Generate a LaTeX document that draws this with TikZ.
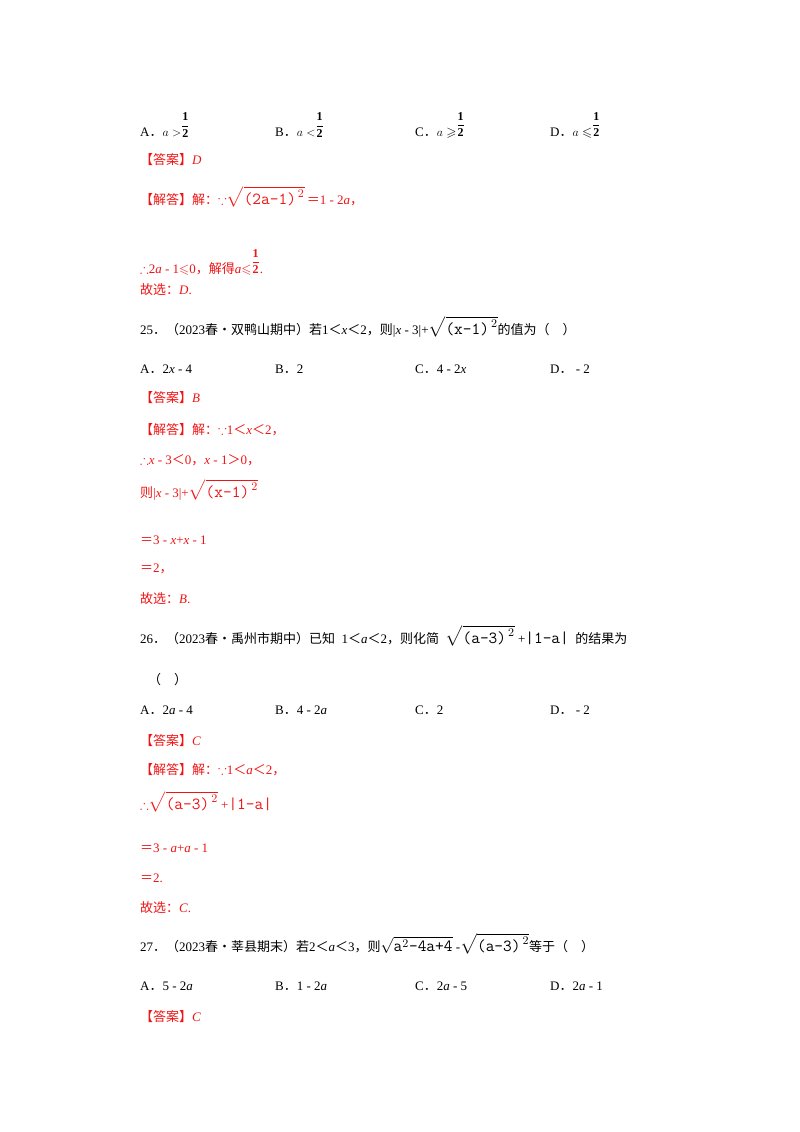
\documentclass[tikz,border=0pt]{standalone}
\usepackage{amssymb}
\usepackage{graphicx}
\usepackage{fontspec}
\setmainfont{Liberation Serif}
\newfontfamily\cjk{Noto Sans CJK SC}
\newcommand\zh[1]{{\cjk #1}}
\definecolor{ans}{RGB}{240,20,20}
\newcommand\rt[1]{\scalebox{1.3}{$\sqrt{\texttt{#1}^{\,2}}$}}
\newcommand\hf{{\large$\displaystyle\frac{\mathbf{1}}{\mathbf{2}}$}}
\begin{document}
\begin{tikzpicture}[x=1pt,y=-1pt,every node/.style={anchor=west,inner sep=0pt,font=\fontsize{13}{15}\selectfont},
 red/.style={text=ans}]
\useasboundingbox[fill=white] (0,0) rectangle (800,1132);
\node (a1) at (140,125) {A\zh{．}$a>$\raisebox{8pt}{\hf}};
\node (b1) at (275,125) {B\zh{．}$a<$\raisebox{8pt}{\hf}};
\node (c1) at (415,125) {C\zh{．}$a\geqslant$\raisebox{8pt}{\hf}};
\node (d1) at (550,125) {D\zh{．}$a\leqslant$\raisebox{8pt}{\hf}};
\node[red] (l1) at (140,160) {\zh{【答案】}\textit{D}};
\node[red] (l2) at (140,197) {\zh{【解答】解：}$\because$\rt{(2a-1)}\,\zh{＝}1 - 2\textit{a}\zh{，}};
\node[red] (l3) at (140,262) {$\therefore$2\textit{a} - 1$\leqslant$0\zh{，解得}\textit{a}$\leqslant$\raisebox{8pt}{\hf}.};
\node[red] (l4) at (140,290) {\zh{故选：}\textit{D}.};
\node (q25) at (140,327) {25\zh{．（}2023\zh{春•双鸭山期中）若}1\zh{＜}\textit{x}\zh{＜}2\zh{，则}|\textit{x} - 3|+\rt{(x-1)}\zh{的值为（\quad ）}};
\node at (140,369) {A\zh{．}2\textit{x} - 4};
\node at (275,369) {B\zh{．}2};
\node at (415,369) {C\zh{．}4 - 2\textit{x}};
\node at (550,369) {D\zh{．} - 2};
\node[red] at (140,398) {\zh{【答案】}\textit{B}};
\node[red] at (140,430) {\zh{【解答】解：}$\because$1\zh{＜}\textit{x}\zh{＜}2\zh{，}};
\node[red] at (140,460) {$\therefore$\textit{x} - 3\zh{＜}0\zh{，}\textit{x} - 1\zh{＞}0\zh{，}};
\node[red] at (140,490) {\zh{则}|\textit{x} - 3|+\rt{(x-1)}};
\node[red] at (140,540) {\zh{＝}3 - \textit{x}+\textit{x} - 1};
\node[red] at (140,569) {\zh{＝}2\zh{，}};
\node[red] at (140,599) {\zh{故选：}\textit{B}.};
\node (q26) at (140,636) {26\zh{．（}2023\zh{春•禹州市期中）已知}\ \ 1\zh{＜}\textit{a}\zh{＜}2\zh{，则化简}\ \ \rt{(a-3)} +\scalebox{1.3}{\texttt{|1-a|}}\ \ \zh{的结果为}};
\node at (148,680) {\zh{（\quad ）}};
\node at (140,710) {A\zh{．}2\textit{a} - 4};
\node at (275,710) {B\zh{．}4 - 2\textit{a}};
\node at (415,710) {C\zh{．}2};
\node at (550,710) {D\zh{．} - 2};
\node[red] at (140,741) {\zh{【答案】}\textit{C}};
\node[red] at (140,770) {\zh{【解答】解：}$\because$1\zh{＜}\textit{a}\zh{＜}2\zh{，}};
\node[red] at (140,802) {$\therefore$\rt{(a-3)} +\scalebox{1.3}{\texttt{|1-a|}}};
\node[red] at (140,848) {\zh{＝}3 - \textit{a}+\textit{a} - 1};
\node[red] at (140,878) {\zh{＝}2.};
\node[red] at (140,908) {\zh{故选：}\textit{C}.};
\node (q27) at (140,944) {27\zh{．（}2023\zh{春•莘县期末）若}2\zh{＜}\textit{a}\zh{＜}3\zh{，则}\scalebox{1.3}{$\sqrt{\texttt{a}^2\texttt{-4a+4}}$} -\rt{(a-3)}\zh{等于（\quad ）}};
\node at (140,986) {A\zh{．}5 - 2\textit{a}};
\node at (275,986) {B\zh{．}1 - 2\textit{a}};
\node at (415,986) {C\zh{．}2\textit{a} - 5};
\node at (550,986) {D\zh{．}2\textit{a} - 1};
\node[red] at (140,1017) {\zh{【答案】}\textit{C}};
\end{tikzpicture}
\end{document}
